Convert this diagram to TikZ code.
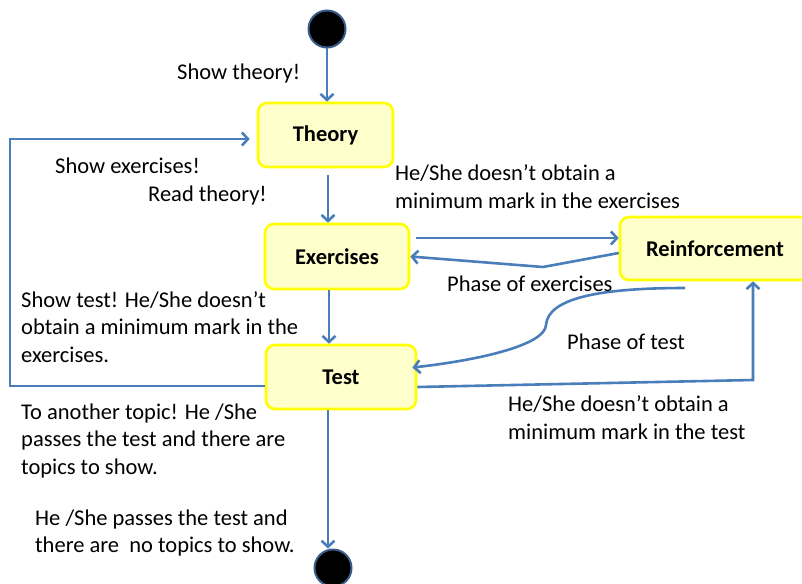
\documentclass[tikz,border=0pt]{standalone}
\usepackage{fontspec}
\setmainfont{Carlito}
\usetikzlibrary{arrows.meta}
\definecolor{flowblue}{HTML}{4A7EBB}
\definecolor{statefill}{HTML}{FFFFCC}
\definecolor{stateedge}{HTML}{FFFF00}
\definecolor{dotrim}{HTML}{385D8A}
\newcommand{\diagfont}{\fontsize{22.5}{27.5}\selectfont}
\tikzset{
  state/.style={rectangle, rounded corners=9pt, draw=stateedge, fill=statefill, line width=2.6pt, inner sep=0pt, font=\diagfont\bfseries},
  flow/.style={draw=flowblue, line width=2.6pt, -{Straight Barb[length=6pt,width=13pt]}},
  note/.style={anchor=base west, align=left, inner sep=0pt, font=\diagfont},
  dot/.style={circle, fill=black, draw=dotrim, line width=2pt, minimum size=37pt, inner sep=0pt}
}

\begin{document}
\begin{tikzpicture}[x=1pt, y=-1pt]
            \useasboundingbox (0,0) rectangle (802,583);
            \node[dot] (start) at (327,29) {};
            \node[state, minimum width=135pt, minimum height=64pt] (theory) at (325.5,135) {Theory};
            \node[state, minimum width=144pt, minimum height=65pt] (exercises) at (337,256.5) {Exercises};
            \node[state, minimum width=150pt, minimum height=64pt] (test) at (341,377) {Test};
            \node[state, minimum width=190pt, minimum height=63pt] (reinf) at (715,248.5) {Reinforcement};
            \node[dot] (end) at (333,568) {};
            \coordinate (vex) at (543,267);
            \coordinate (tcurve) at (685,288);
            \coordinate (tcorner) at (753,380);
            \coordinate (lb) at (10,386);
            \coordinate (lt) at (10,139);

            \draw[flow] (start) -- (start |- theory.north);
            \draw[flow, shorten <=7pt] ([xshift=2.5pt]theory.south) -- ([xshift=2.5pt]theory.south |- exercises.north);
            \draw[flow] ([xshift=-8pt]exercises.south) -- ([xshift=-8pt]exercises.south |- test.north);
            \draw[flow] ([xshift=-13pt]test.south) -- ([xshift=-13pt]test.south |- end.north);
            \draw[flow, shorten <=6pt] ([yshift=18.5pt]exercises.east) -- ([yshift=18.5pt]exercises.east -| reinf.west);
            \draw[flow] ([yshift=-4.5pt]reinf.west) -- (vex) -- (exercises.east);
            \draw[flow, shorten >=-5pt] (tcurve) .. controls (600,288) and (548,298) .. (546,325) .. controls (545,345) and (480,360) .. ([yshift=10pt]test.east);
            \draw[flow] ([yshift=-10pt]test.east) -- (tcorner) -- (tcorner |- reinf.south);
            \draw[flow, shorten >=7pt, line join=miter] ([yshift=-9pt]test.west) -- (lb) -- (lt) -- (lt -| theory.west);

            \node[note] (showtheory) at (177,80) {Show theory!};
            \node[note] (showex) at (55,173) {Show exercises!};
            \node[note] (readtheory) at (148,201) {Read theory!};
            \node[note] (failex) at (395,208) {He/She doesn’t obtain a\\minimum mark in the exercises};
            \node[note] (showtest) at (21,362) {Show test! He/She doesn’t\\obtain a minimum mark in the\\exercises.};
            \node[note] (another) at (21,474) {To another topic! He /She\\passes the test and there are\\topics to show.};
            \node[note] (finish) at (35,552.5) {He /She passes the test and\\there are\ \ no topics to show.};
            \node[note] (failtest) at (508,439) {He/She doesn’t obtain a\\minimum mark in the test};
            \node[note] (phaseex) at (447,291) {Phase of exercises};
            \node[note] (phasetest) at (567,349) {Phase of test};
        \end{tikzpicture}
\end{document}
